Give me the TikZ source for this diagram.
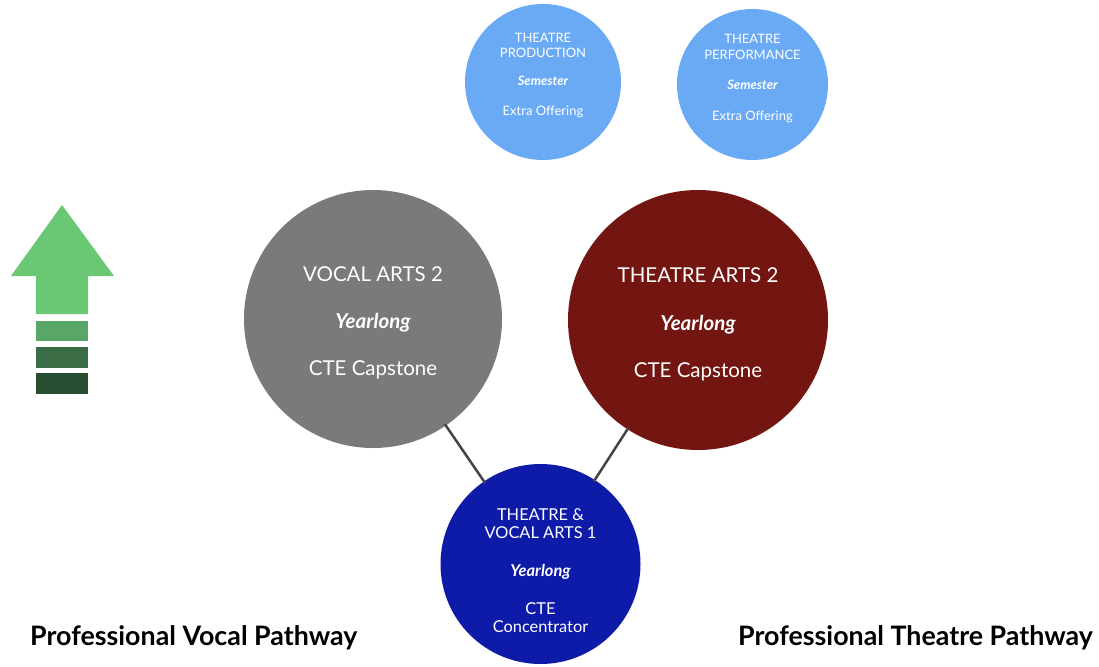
\documentclass[tikz,border=0pt]{standalone}
\usepackage{fontspec}
\setmainfont{Lato}
\usepackage{tikz}
\usetikzlibrary{arrows,positioning}
\usepackage{xcolor}
\definecolor{skyblue}{RGB}{106,170,245}
\definecolor{stonegray}{RGB}{122,122,122}
\definecolor{maroon}{RGB}{115,21,16}
\definecolor{royal}{RGB}{13,27,168}
\definecolor{linkgray}{RGB}{68,68,68}
\definecolor{arrowgreen}{RGB}{106,200,116}
\definecolor{barA}{RGB}{88,166,104}
\definecolor{barB}{RGB}{58,108,70}
\definecolor{barC}{RGB}{42,78,50}

\begin{document}
\begin{tikzpicture}[x=1pt,y=-1pt,
  course/.style={circle, inner sep=0pt, draw=none},
  txt/.style={anchor=base, text=white, inner sep=0pt},
  path/.style={anchor=base, inner sep=0pt, font=\bfseries\fontsize{26.8}{26.8}\selectfont}]
\useasboundingbox (0,0) rectangle (1099,666);
%%%COURSES
\node[course, fill=skyblue, minimum size=156pt] (prod) at (543,82) {};
\node[course, fill=skyblue, minimum size=151pt] (perf) at (752.5,84.5) {};
\node[course, fill=stonegray, minimum size=258pt] (vocal) at (373,319) {};
\node[course, fill=maroon, minimum size=260pt] (theatre) at (698,320) {};
\node[course, fill=royal, minimum size=200pt] (intro) at (540.5,564) {};
%%%LINKS
\draw[linkgray, line width=2.5pt, shorten <=-2pt, shorten >=-2pt] (vocal) -- (intro);
\draw[linkgray, line width=2.5pt, shorten <=-2pt, shorten >=-2pt] (theatre) -- (intro);
%%%TEXTS
\begin{scope}[font=\fontsize{13}{13}\selectfont]
\node[txt] (prodA) at (543,42.7) {THEATRE};
\node[txt] (prodB) at (543,57.3) {PRODUCTION};
\node[txt] (prodC) at (543,86) {\bfseries\itshape Semester};
\node[txt] (prodD) at (543,115) {Extra Offering};
\node[txt] (perfA) at (752.5,43.3) {THEATRE};
\node[txt] (perfB) at (752.5,59.3) {PERFORMANCE};
\node[txt] (perfC) at (752.5,90) {\bfseries\itshape Semester};
\node[txt] (perfD) at (752.5,121) {Extra Offering};
\end{scope}
\begin{scope}[font=\fontsize{20.5}{20.5}\selectfont]
\node[txt] (vocalA) at (373,281) {VOCAL ARTS 2};
\node[txt] (vocalB) at (373,328) {\bfseries\itshape Yearlong};
\node[txt] (vocalC) at (373,375) {CTE Capstone};
\node[txt] (theatreA) at (698,282) {THEATRE ARTS 2};
\node[txt] (theatreB) at (698,330) {\bfseries\itshape Yearlong};
\node[txt] (theatreC) at (698,377.7) {CTE Capstone};
\end{scope}
\begin{scope}[font=\fontsize{16.4}{16.4}\selectfont]
\node[txt] (introA) at (540.5,520) {THEATRE \&};
\node[txt] (introB) at (540.5,538) {VOCAL ARTS 1};
\node[txt] (introC) at (540.5,576) {\bfseries\itshape Yearlong};
\node[txt] (introD) at (540.5,614) {CTE};
\node[txt] (introE) at (540.5,632) {Concentrator};
\end{scope}
%%%PATHWAYS
\node[path, anchor=base west] (vocalpath) at (30,645) {Professional Vocal Pathway};
\node[path, anchor=base east] (theatrepath) at (1093,645) {Professional Theatre Pathway};
%%%ARROW
\fill[arrowgreen] (62,205) -- (114,276) -- (88,276) -- (88,314) -- (36,314) -- (36,276) -- (11,276) -- cycle;
\fill[barA] (36,320.7) rectangle (88,341);
\fill[barB] (36,346.7) rectangle (88,367.7);
\fill[barC] (36,373) rectangle (88,394);
\end{tikzpicture}
\end{document}
